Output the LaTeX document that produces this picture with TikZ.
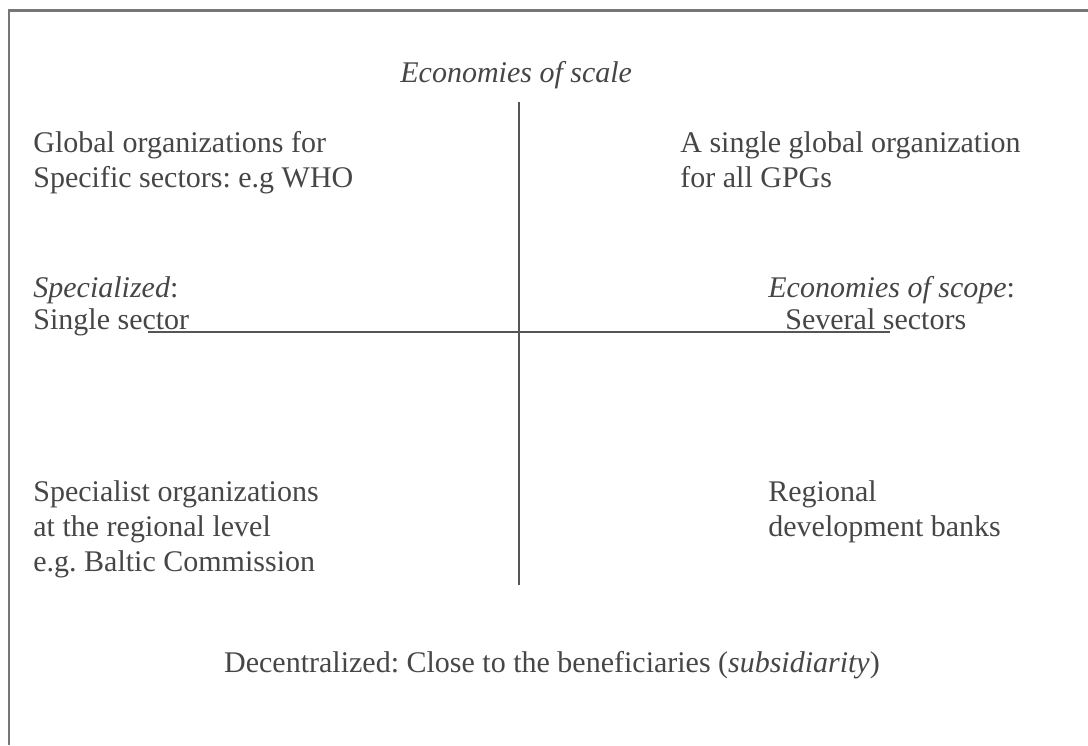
\documentclass[tikz,border=0pt]{standalone}
\usepackage{fontspec}
\setmainfont{Liberation Serif}
\definecolor{ink}{RGB}{70,70,70}
\definecolor{rule}{RGB}{85,85,85}
\begin{document}
\frenchspacing
\begin{tikzpicture}[x=0.5pt,y=-0.5pt,
  txt/.style={inner sep=0pt,text=ink,font=\fontsize{15}{17}\selectfont},
  lw/.style={txt,anchor=base west},
  axis/.style={draw=rule,line width=1pt},
  frame/.style={draw=rule!80,line width=1.3pt}]
\useasboundingbox (0,0) rectangle (1088,745);
% frame
\coordinate (f1) at (9,745);
\coordinate (f2) at (9,10.5);
\coordinate (f3) at (1088,10.5);
\draw[frame] (f1) -- (f2) -- (f3);
% axes
\coordinate (vt) at (519,102);
\coordinate (vb) at (519,585);
\coordinate (hl) at (148,332);
\coordinate (hr) at (890,332);
\draw[axis] (vt) -- (vb);
\draw[axis] (hl) -- (hr);
% labels
\node[lw] (scale) at (400,82) {\textit{Economies of scale}};
\node[lw] (g1) at (33,152) {Global organizations for};
\node[lw] (g2) at (33,187) {Specific sectors: e.g WHO};
\node[lw] (s1) at (680,152) {A single global organization};
\node[lw] (s2) at (680,187) {for all GPGs};
\node[lw] (sp1) at (33,297) {\textit{Specialized}:};
\node[lw] (sp2) at (33,329) {Single sector};
\node[lw] (sc1) at (768,297) {\textit{Economies of scope}:};
\node[lw] (sc2) at (785,329) {Several sectors};
\node[lw] (r1) at (33,501) {Specialist organizations};
\node[lw] (r2) at (33,536) {at the regional level};
\node[lw] (r3) at (33,571) {e.g. Baltic Commission};
\node[lw] (b1) at (768,501) {Regional};
\node[lw] (b2) at (768,536) {development banks};
\node[txt,anchor=base] (dec) at (552,672) {Decentralized: Close to the beneficiaries (\textit{subsidiarity})};
\end{tikzpicture}
\end{document}
